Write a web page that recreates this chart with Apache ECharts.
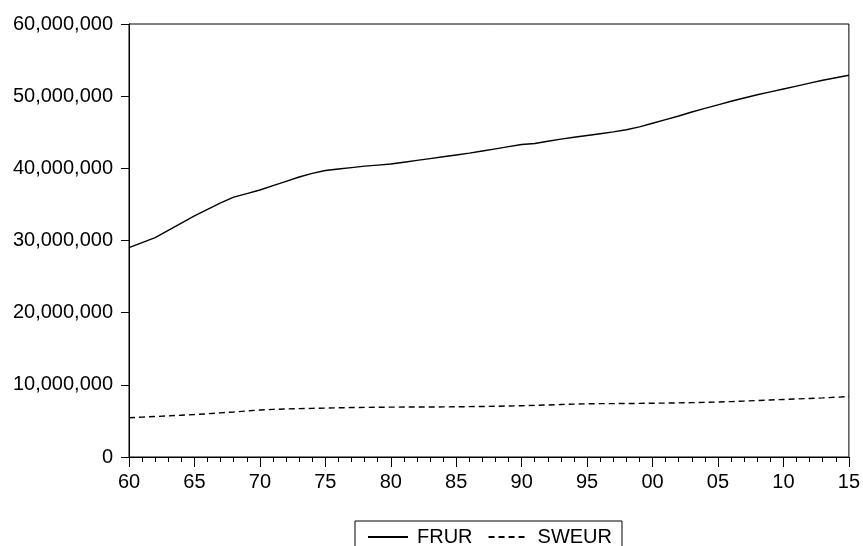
<!DOCTYPE html>
<html>
<head>
<meta charset="utf-8">
<script src="https://cdn.jsdelivr.net/npm/echarts@6/dist/echarts.min.js"></script>
<style>
  html, body { margin: 0; padding: 0; background: #fff; }
  #chart { width: 863px; height: 546px; }
</style>
</head>
<body>
<div id="chart"></div>
<script>
// years 1960..2015
const years = [
  1960, 1961, 1962, 1963, 1964, 1965, 1966, 1967, 1968, 1969,
  1970, 1971, 1972, 1973, 1974, 1975, 1976, 1977, 1978, 1979,
  1980, 1981, 1982, 1983, 1984, 1985, 1986, 1987, 1988, 1989,
  1990, 1991, 1992, 1993, 1994, 1995, 1996, 1997, 1998, 1999,
  2000, 2001, 2002, 2003, 2004, 2005, 2006, 2007, 2008, 2009,
  2010, 2011, 2012, 2013, 2014, 2015
]

// millions
const frur = [
  29.0, 29.7, 30.4, 31.4, 32.4, 33.4, 34.3, 35.2, 36.0, 36.5,
  37.0, 37.6, 38.2, 38.8, 39.3, 39.7, 39.9, 40.1, 40.3, 40.45,
  40.6, 40.85, 41.1, 41.35, 41.6, 41.85, 42.1, 42.4, 42.7, 43.0,
  43.3, 43.45, 43.75, 44.05, 44.3, 44.55, 44.8, 45.05, 45.35, 45.75,
  46.25, 46.75, 47.25, 47.8, 48.3, 48.8, 49.3, 49.75, 50.2, 50.6,
  51.0, 51.4, 51.8, 52.2, 52.55, 52.9
]

const sweur = [
  5.43, 5.52, 5.61, 5.70, 5.79, 5.88, 5.99, 6.12, 6.24, 6.38,
  6.51, 6.60, 6.66, 6.70, 6.74, 6.78, 6.82, 6.85, 6.87, 6.89,
  6.91, 6.92, 6.92, 6.93, 6.94, 6.96, 6.98, 7.00, 7.03, 7.07,
  7.11, 7.16, 7.21, 7.27, 7.33, 7.37, 7.39, 7.40, 7.41, 7.43,
  7.45, 7.47, 7.50, 7.53, 7.57, 7.62, 7.68, 7.75, 7.83, 7.90,
  7.97, 8.04, 8.11, 8.19, 8.28, 8.38
]

const seriesNames = ['FRUR', 'SWEUR']

const font = 'Liberation Sans, Arial, sans-serif'

const toPairs = (vals) => years.map((y, i) => [y, vals[i] * 1e6])

const chart = echarts.init(document.getElementById('chart'), null, { renderer: 'canvas' })

const option = {
  animation: false,
  backgroundColor: '#fff',
  grid: {
    left: 129,
    top: 24,
    right: 14,
    bottom: 89,
    show: true,
    borderColor: '#000',
    borderWidth: 1
  },
  legend: {
    data: seriesNames,
    left: 355,
    top: 521,
    orient: 'horizontal',
    itemWidth: 40,
    itemHeight: 12,
    itemGap: 15,
    padding: [6, 10, 8, 12],
    borderColor: '#000',
    borderWidth: 1,
    itemStyle: { opacity: 0 },
    textStyle: { color: '#000', fontSize: 20, fontFamily: font, padding: [0, 0, 0, 4] }
  },
  xAxis: [
    {
      type: 'value',
      min: 1960,
      max: 2015,
      interval: 5,
      axisLine: { lineStyle: { color: '#000', width: 1 } },
      axisTick: { show: true, length: 10, lineStyle: { color: '#000' } },
      splitLine: { show: false },
      axisLabel: {
        color: '#000',
        fontSize: 20,
        fontFamily: font,
        margin: 15,
        formatter: (v) => String(v).slice(2)
      }
    },
    {
      // yearly minor ticks
      type: 'value',
      position: 'bottom',
      min: 1960,
      max: 2015,
      interval: 1,
      axisLine: { show: false },
      axisTick: { show: true, length: 5, lineStyle: { color: '#000' } },
      axisLabel: { show: false },
      splitLine: { show: false }
    }
  ],
  yAxis: {
    type: 'value',
    min: 0,
    max: 60000000,
    interval: 10000000,
    axisLine: { show: true, lineStyle: { color: '#000', width: 1 } },
    axisTick: { show: true, length: 8, lineStyle: { color: '#000' } },
    splitLine: { show: false },
    axisLabel: {
      color: '#000',
      fontSize: 20,
      fontFamily: font,
      margin: 16,
      formatter: (v) => v.toLocaleString('en-US')
    }
  },
  series: [
    {
      name: seriesNames[0],
      type: 'line',
      symbol: 'none',
      color: '#000',
      lineStyle: { color: '#000', width: 1.4 },
      data: toPairs(frur)
    },
    {
      name: seriesNames[1],
      type: 'line',
      symbol: 'none',
      color: '#000',
      lineStyle: { color: '#000', width: 1.4, type: [6, 4] },
      data: toPairs(sweur)
    }
  ]
}

chart.setOption(option)
</script>
</body>
</html>
